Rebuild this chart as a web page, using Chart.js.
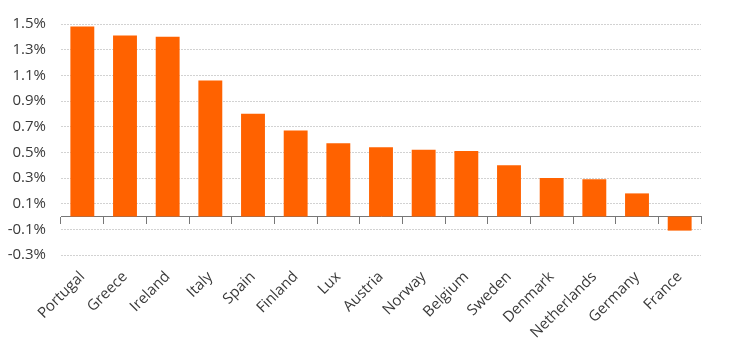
<!DOCTYPE html>
<html>
<head>
<meta charset="utf-8">
<script src="https://cdn.jsdelivr.net/npm/chart.js@4"></script>
<style>
  html, body { margin: 0; padding: 0; background: #fff; }
  #wrap { width: 735px; height: 351px; }
</style>
</head>
<body>
<div id="wrap"><canvas id="myChart"></canvas></div>
<script>
// Countries, sorted as in the chart
const countries = ['Portugal', 'Greece', 'Ireland', 'Italy', 'Spain', 'Finland', 'Lux', 'Austria',
  'Norway', 'Belgium', 'Sweden', 'Denmark', 'Netherlands', 'Germany', 'France'];

// Values in percent
const values = [1.48, 1.41, 1.40, 1.06, 0.80, 0.67, 0.57, 0.54, 0.52, 0.51, 0.40, 0.30, 0.29, 0.18, -0.11];

// y-axis range and step
const yMin = -0.3;
const yMax = 1.5;
const yStep = 0.2;

const font = { family: 'Open Sans', size: 15 };
const textColor = '#3a3a3a';

const ctx = document.getElementById('myChart').getContext('2d');
new Chart(ctx, {
  type: 'bar',
  data: {
    labels: countries,
    datasets: [{
      data: values,
      backgroundColor: '#FF6200',
      borderWidth: 0,
      barPercentage: 0.56,
      categoryPercentage: 1.0
    }]
  },
  options: {
    responsive: true,
    maintainAspectRatio: false,
    animation: false,
    layout: {
      padding: { left: 0, right: 34, top: 15, bottom: 2 }
    },
    plugins: {
      legend: { display: false },
      tooltip: { enabled: false }
    },
    scales: {
      x: {
        type: 'category',
        position: 'bottom',
        grid: { display: false, tickLength: 8 },
        border: { display: false },
        ticks: {
          color: textColor,
          font: font,
          maxRotation: 45,
          minRotation: 45,
          padding: 5
        },
        // don't let the rotated first label push the plot to the right
        afterFit: scale => {
          scale.paddingLeft = 0;
          scale.paddingRight = 0;
          scale.height = 94;
        }
      },
      // axis line at zero with tick marks between the bars
      x2: {
        type: 'category',
        position: { y: 0 },
        offset: true,
        grid: {
          offset: true,
          drawOnChartArea: false,
          color: '#777',
          tickLength: 7,
          lineWidth: 1
        },
        border: { display: true, color: '#777', width: 1 },
        ticks: { display: false }
      },
      y: {
        min: yMin,
        max: yMax,
        ticks: {
          stepSize: yStep,
          color: textColor,
          font: font,
          padding: 15,
          callback: v => v.toFixed(1) + '%'
        },
        grid: {
          color: '#d2d2d2',
          drawTicks: false
        },
        border: { display: false, dash: [2, 1] },
        afterFit: scale => {
          scale.width = 61;
        }
      }
    }
  }
});
</script>
</body>
</html>
